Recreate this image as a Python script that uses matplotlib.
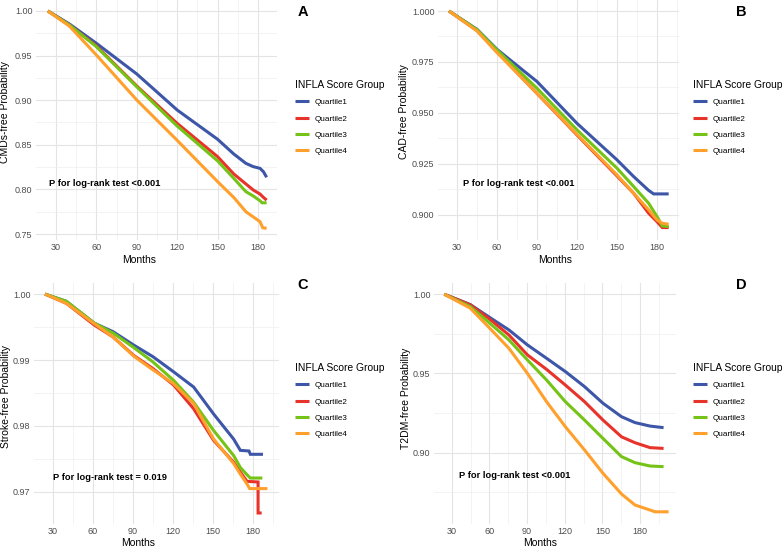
import matplotlib
matplotlib.use("Agg")
import matplotlib.pyplot as plt
from matplotlib.ticker import MultipleLocator, FormatStrFormatter

W, H = 784, 547
plt.rcParams['font.family'] = ['Liberation Sans', 'DejaVu Sans']

groups = ["Quartile1", "Quartile2", "Quartile3", "Quartile4"]
colors = ["#3D56A8", "#E8332A", "#74C316", "#FFA02C"]
legend_title = "INFLA Score Group"
x_title = "Months"
x_ticks = [30, 60, 90, 120, 150, 180]

# ---------------- Panel A : CMDs ----------------
a_q1_m = [24, 40, 60, 90, 120, 150, 162, 171, 176.5, 181.5, 184, 186.4]
a_q1_p = [1.0, 0.9854, 0.9638, 0.9294, 0.889, 0.8562, 0.8397, 0.8292, 0.8255, 0.8236, 0.8199, 0.8136]
a_q2_m = [24, 40, 60, 90, 120, 150, 162, 176.5, 181.5, 184, 186.4]
a_q2_p = [1.0, 0.9843, 0.9608, 0.9159, 0.874, 0.8367, 0.8173, 0.7993, 0.7948, 0.7911, 0.788]
a_q3_m = [24, 40, 60, 90, 120, 150, 162, 171, 176.5, 181.5, 183, 186.4]
a_q3_p = [1.0, 0.9843, 0.960, 0.915, 0.871, 0.832, 0.8124, 0.7975, 0.7926, 0.7873, 0.785, 0.785]
a_q4_m = [24, 40, 60, 90, 120, 150, 162, 171, 181.5, 183.5, 186.4]
a_q4_p = [1.0, 0.983, 0.9507, 0.9002, 0.855, 0.8087, 0.791, 0.775, 0.7638, 0.7570, 0.7564]

# ---------------- Panel B : CAD ----------------
b_q1_m = [24, 45, 60, 90, 120, 150, 162.5, 173.75, 177.5, 188.75]
b_q1_p = [1.0, 0.991, 0.9812, 0.9654, 0.9449, 0.927, 0.9188, 0.912, 0.9103, 0.9103]
b_q2_m = [24, 45, 60, 90, 120, 150, 162.5, 173.75, 180, 184, 188.75]
b_q2_p = [1.0, 0.9905, 0.980, 0.9596, 0.9392, 0.9191, 0.9106, 0.9008, 0.8967, 0.8938, 0.8938]
b_q3_m = [24, 45, 60, 90, 120, 150, 162.5, 173.75, 180, 184, 188.75]
b_q3_p = [1.0, 0.9908, 0.9809, 0.9621, 0.9417, 0.9229, 0.9139, 0.9057, 0.8992, 0.8946, 0.8943]
b_q4_m = [24, 45, 60, 90, 120, 150, 162.5, 173.75, 180, 184, 188.75]
b_q4_p = [1.0, 0.9902, 0.9796, 0.9596, 0.9395, 0.9196, 0.9106, 0.9025, 0.8975, 0.8959, 0.8954]

# ---------------- Panel C : Stroke ----------------
c_q1_m = [24, 40, 61, 75, 90.5, 105, 120.5, 135.5, 150.5, 165.5, 170.5, 177, 178, 187.5]
c_q1_p = [1.0, 0.9989, 0.99558, 0.9943, 0.99227, 0.9905, 0.9882, 0.9859, 0.9818, 0.978, 0.9763, 0.9762, 0.9757, 0.9757]
c_q2_m = [24, 40, 61, 75, 90.5, 105, 120.5, 135.5, 150.5, 165.5, 170.5, 175.5, 183.8, 183.8, 186.5]
c_q2_p = [1.0, 0.9986, 0.9953, 0.9935, 0.9907, 0.9887, 0.9862, 0.9826, 0.9778, 0.9745, 0.973, 0.9716, 0.9715, 0.9668, 0.9668]
c_q3_m = [24, 40, 61, 75, 90.5, 105, 120.5, 135.5, 150.5, 165.5, 170.5, 175.5, 178, 187]
c_q3_p = [1.0, 0.9989, 0.9956, 0.9941, 0.9919, 0.9897, 0.9869, 0.9836, 0.9793, 0.9755, 0.9737, 0.9726, 0.9721, 0.9721]
c_q4_m = [24, 40, 61, 75, 90.5, 105, 120.5, 135.5, 150.5, 165.5, 170.5, 175.5, 177.5, 190.8]
c_q4_p = [1.0, 0.9986, 0.9955, 0.9935, 0.9906, 0.9885, 0.9864, 0.9834, 0.9780, 0.9743, 0.9727, 0.9712, 0.9705, 0.9705]

# ---------------- Panel D : T2DM ----------------
d_q1_m = [24, 44.7, 60.3, 75.5, 90.3, 105.5, 120.5, 135.8, 150.5, 165.3, 176, 188, 198.8]
d_q1_p = [1.0, 0.9935, 0.9853, 0.9775, 0.968, 0.9596, 0.9512, 0.9417, 0.9312, 0.9227, 0.919, 0.9168, 0.9158]
d_q2_m = [24, 44.7, 60.3, 75.5, 90.3, 105.5, 120.5, 135.8, 150.5, 165.3, 176, 188, 198.8]
d_q2_p = [1.0, 0.9933, 0.9842, 0.9743, 0.9617, 0.9526, 0.9427, 0.9322, 0.9206, 0.910, 0.9063, 0.9032, 0.9027]
d_q3_m = [24, 44.7, 60.3, 75.5, 90.3, 105.5, 120.5, 135.8, 150.5, 165.3, 176, 188, 198.8]
d_q3_p = [1.0, 0.9922, 0.9817, 0.9712, 0.9585, 0.9459, 0.9322, 0.9206, 0.909, 0.8975, 0.8937, 0.8916, 0.8912]
d_q4_m = [24, 44.7, 60.3, 75.5, 90.3, 105.5, 120.5, 135.8, 150.5, 165.3, 176, 188, 192, 202.8]
d_q4_p = [1.0, 0.9912, 0.9785, 0.9659, 0.950, 0.9322, 0.9164, 0.9017, 0.887, 0.8739, 0.867, 0.8638, 0.8627, 0.8627]

panels = [
    dict(curves=[(a_q1_m, a_q1_p), (a_q2_m, a_q2_p), (a_q3_m, a_q3_p), (a_q4_m, a_q4_p)],
         ylabel="CMDs-free Probability", letter="A", ptext="P for log-rank test <0.001",
         box=(36, 0, 277, 240), xlim=(15.2, 194.1), ylim=(0.7433, 1.0123),
         ymajor=0.05, yfmt="%.2f",
         ylab_pos=(5, 112), xlab_pos=(139, 260), letter_pos=(303, 12),
         ptext_pos=(49, 183), legend_pos=(295, 80)),
    dict(curves=[(b_q1_m, b_q1_p), (b_q2_m, b_q2_p), (b_q3_m, b_q3_p), (b_q4_m, b_q4_p)],
         ylabel="CAD-free Probability", letter="B", ptext="P for log-rank test <0.001",
         box=(438, 0, 679, 240), xlim=(15.75, 196.5), ylim=(0.8877, 1.0054),
         ymajor=0.025, yfmt="%.3f",
         ylab_pos=(404, 112), xlab_pos=(555, 260), letter_pos=(741, 12),
         ptext_pos=(463, 183), legend_pos=(693, 80)),
    dict(curves=[(c_q1_m, c_q1_p), (c_q2_m, c_q2_p), (c_q3_m, c_q3_p), (c_q4_m, c_q4_p)],
         ylabel="Stroke-free Probability", letter="C", ptext="P for log-rank test = 0.019",
         box=(34, 283, 279, 524), xlim=(15.75, 199.5), ylim=(0.96513, 1.00168),
         ymajor=0.01, yfmt="%.2f",
         ylab_pos=(6, 396), xlab_pos=(138, 543), letter_pos=(303, 285),
         ptext_pos=(53, 477), legend_pos=(295, 363)),
    dict(curves=[(d_q1_m, d_q1_p), (d_q2_m, d_q2_p), (d_q3_m, d_q3_p), (d_q4_m, d_q4_p)],
         ylabel="T2DM-free Probability", letter="D", ptext="P for log-rank test <0.001",
         box=(434, 283, 676, 524), xlim=(15.8, 208.7), ylim=(0.855, 1.0071),
         ymajor=0.05, yfmt="%.2f",
         ylab_pos=(406, 398), xlab_pos=(540, 543), letter_pos=(741, 285),
         ptext_pos=(459, 476), legend_pos=(693, 363)),
]

fig = plt.figure(figsize=(W / 100, H / 100), dpi=100)
fig.patch.set_facecolor("white")


def fx(x):
    return x / W


def fy(y):
    return 1 - y / H


for pnl in panels:
    l, t, r, b = pnl["box"]
    ax = fig.add_axes([fx(l), fy(b), (r - l) / W, (b - t) / H])
    ax.set_facecolor("white")
    handles = []
    for (m, p), col, g in zip(pnl["curves"], colors, groups):
        ln, = ax.plot(m, p, color=col, lw=2.2, solid_capstyle="butt",
                      solid_joinstyle="miter", label=g)
        handles.append(ln)
    ax.set_xlim(*pnl["xlim"])
    ax.set_ylim(*pnl["ylim"])
    ax.set_xticks(x_ticks)
    ax.xaxis.set_minor_locator(MultipleLocator(15))
    ax.yaxis.set_major_locator(MultipleLocator(pnl["ymajor"]))
    ax.yaxis.set_minor_locator(MultipleLocator(pnl["ymajor"] / 2))
    ax.yaxis.set_major_formatter(FormatStrFormatter(pnl["yfmt"]))
    ax.grid(True, which="major", color="#E4E4E4", lw=0.8)
    ax.grid(True, which="minor", color="#EEEEEE", lw=0.5)
    ax.set_axisbelow(True)
    for s in ax.spines.values():
        s.set_visible(False)
    ax.tick_params(which="both", length=0, pad=2.5, labelsize=6.5, labelcolor="#4D4D4D")

    fig.text(fx(pnl["ylab_pos"][0]), fy(pnl["ylab_pos"][1]), pnl["ylabel"],
             rotation=90, ha="center", va="center", fontsize=7.5, color="black")
    fig.text(fx(pnl["xlab_pos"][0]), fy(pnl["xlab_pos"][1]), x_title,
             ha="center", va="center", fontsize=7.5, color="black")
    fig.text(fx(pnl["letter_pos"][0]), fy(pnl["letter_pos"][1]), pnl["letter"],
             ha="center", va="center", fontsize=10.5, fontweight="bold", color="black")
    fig.text(fx(pnl["ptext_pos"][0]), fy(pnl["ptext_pos"][1]), pnl["ptext"],
             ha="left", va="center", fontsize=6.7, fontweight="bold", color="black")

    leg = ax.legend(handles=handles, labels=groups, title=legend_title,
                    loc="upper left", bbox_to_anchor=(fx(pnl["legend_pos"][0]), fy(pnl["legend_pos"][1])),
                    bbox_transform=fig.transFigure, frameon=False, fontsize=5.9,
                    title_fontsize=7.4, handlelength=1.7, handletextpad=0.75,
                    labelspacing=1.05, borderpad=0, borderaxespad=0)
    leg._legend_box.align = "left"

fig.savefig("out.png", dpi=100, facecolor="white")
